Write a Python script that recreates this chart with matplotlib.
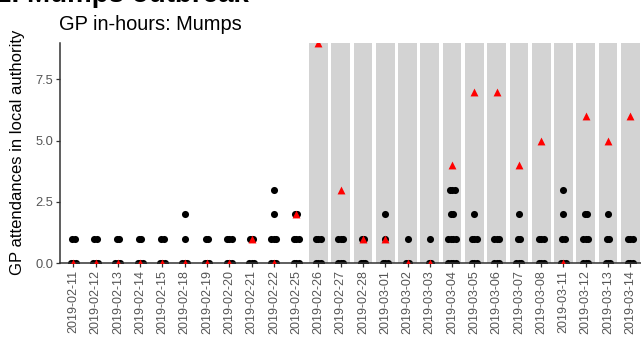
import numpy as np
import matplotlib
matplotlib.use('Agg')
import matplotlib.pyplot as plt

plt.rcParams['font.family'] = ['Liberation Sans', 'DejaVu Sans']

dates = ['2019-02-11', '2019-02-12', '2019-02-13', '2019-02-14', '2019-02-15',
         '2019-02-18', '2019-02-19', '2019-02-20', '2019-02-21', '2019-02-22',
         '2019-02-25', '2019-02-26', '2019-02-27', '2019-02-28', '2019-03-01',
         '2019-03-02', '2019-03-03', '2019-03-04', '2019-03-05', '2019-03-06',
         '2019-03-07', '2019-03-08', '2019-03-11', '2019-03-12', '2019-03-13',
         '2019-03-14']

# attendances in the local authority of interest (red triangles)
local_la = [0, 0, 0, 0, 0, 0, 0, 0, 1, 0,
            2, 9, 3, 1, 1, 0, 0, 4, 7, 7,
            4, 5, 0, 6, 5, 6]

# attendances in the other local authorities (black dots), one entry per authority
other_la = [
    [0, 0, 0, 1, 1],
    [0, 0, 0, 1, 1],
    [0, 0, 0, 1, 1],
    [0, 0, 0, 1, 1],
    [0, 0, 0, 1, 1],
    [0, 0, 0, 1, 2],
    [0, 0, 0, 1, 1],
    [0, 0, 0, 1, 1, 1],
    [0, 0, 0, 1, 1],
    [0, 0, 0, 1, 1, 1, 2, 3],
    [0, 0, 0, 1, 1, 1, 2, 2],
    [0, 0, 0, 1, 1, 1],
    [0, 0, 0, 1, 1, 1],
    [0, 0, 0, 1, 1],
    [0, 0, 0, 1, 2],
    [0, 0, 1],
    [0, 0, 1],
    [0, 0, 0, 0, 1, 1, 1, 1, 2, 2, 3, 3, 3],
    [0, 0, 0, 1, 1, 1, 2],
    [0, 0, 0, 1, 1, 1],
    [0, 0, 0, 1, 1, 2],
    [0, 0, 0, 1, 1, 1],
    [0, 0, 0, 1, 1, 2, 3],
    [0, 0, 0, 1, 1, 1, 2, 2],
    [0, 0, 0, 1, 1, 2],
    [0, 0, 0, 1, 1, 1],
]

# days flagged as part of the outbreak period (grey bands)
outbreak_days = dates[11:]

fig = plt.figure(figsize=(6.41, 3.45), dpi=100)
ax = fig.add_axes([60 / 641, 1 - 263 / 345, 581 / 641, (263 - 42.5) / 345])

x = np.arange(len(dates))

for d in outbreak_days:
    i = dates.index(d)
    ax.axvspan(i - 0.42, i + 0.42, color='#d3d3d3', lw=0, zorder=0)

# spread the points at the same value a little sideways (like geom_jitter)
for i, vals in enumerate(other_la):
    vals = np.array(vals)
    for v in np.unique(vals):
        n = np.sum(vals == v)
        half = min(0.055 * (n - 1), 0.2)
        offs = np.linspace(-half, half, n)
        ax.scatter(i + offs, [v] * n, s=26, color='black', lw=0, zorder=2)

ax.scatter(x, local_la, marker='^', s=32, color='red', lw=0, zorder=3)

ax.set_xlim(-0.6, 25.48)
ax.set_ylim(0, 9.0)
ax.set_xticks(x)
ax.set_xticklabels(dates, rotation=90, fontsize=9, color='#555555')
ax.set_yticks([0, 2.5, 5.0, 7.5])
ax.set_yticklabels(['0.0', '2.5', '5.0', '7.5'], fontsize=9.3, color='#555555')
ax.tick_params(axis='both', length=3, width=0.9, color='#333333', pad=2)

for side in ['top', 'right']:
    ax.spines[side].set_visible(False)
for side in ['left', 'bottom']:
    ax.spines[side].set_color('#333333')
    ax.spines[side].set_linewidth(1.1)

ax.set_ylabel('GP attendances in local authority', fontsize=12, labelpad=7)

fig.text(59 / 641, 1 - 29.5 / 345, 'GP in-hours: Mumps', fontsize=14.4,
         ha='left', va='baseline')
# page heading that is cut off at the top edge of the image
fig.text(-4 / 641, 1 - 2 / 345, '2. Mumps outbreak', fontsize=20,
         fontweight='bold', ha='left', va='baseline')

fig.savefig('out.png', dpi=100)
